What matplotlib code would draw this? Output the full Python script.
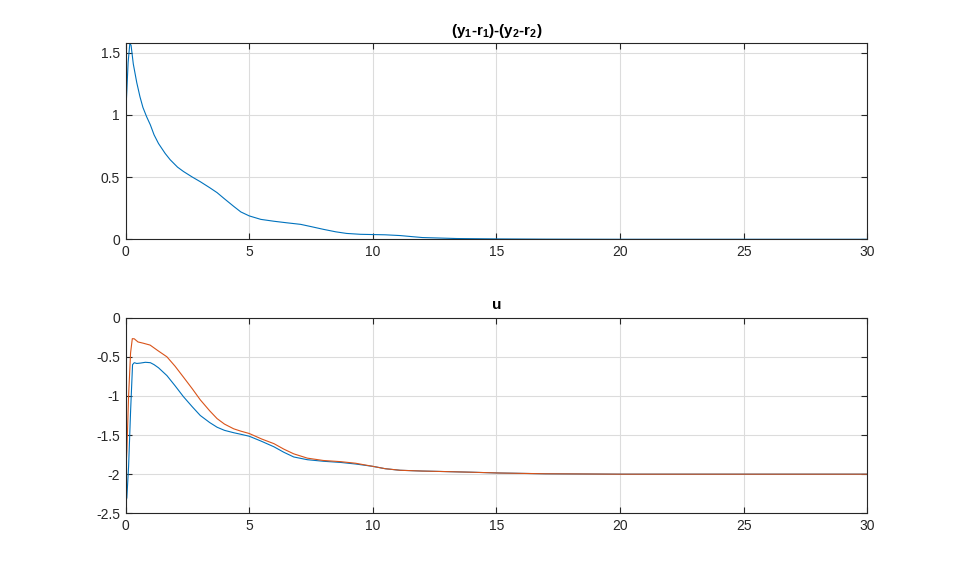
import numpy as np
import matplotlib
matplotlib.use('Agg')
import matplotlib.pyplot as plt


# <============DATA============>#

t_e = [0, 0.05, 0.1, 0.17, 0.22, 0.31, 0.45, 0.58, 0.7, 0.85, 1.0, 1.15,
       1.33, 1.6, 1.8, 2.1, 2.34, 2.7, 3.02, 3.4, 3.7, 4.0, 4.37, 4.66, 5.0,
       5.47, 6.0, 6.5, 7.08, 7.5, 8.0, 8.5, 8.94, 9.5, 10, 10.5, 11.1, 11.6,
       12, 13.4, 15, 17, 20, 25, 30]
e = [1.0, 1.2, 1.42, 1.575, 1.56, 1.41, 1.26, 1.146, 1.06, 0.985, 0.92,
     0.84, 0.77, 0.69, 0.64, 0.58, 0.545, 0.50, 0.463, 0.415, 0.375, 0.325,
     0.265, 0.22, 0.188, 0.16, 0.145, 0.133, 0.12, 0.102, 0.08, 0.06, 0.047,
     0.04, 0.038, 0.036, 0.03, 0.021, 0.014, 0.006, 0.003, 0.001, 0.0, 0.0,
     0.0]

t_u1 = [0, 0.05, 0.12, 0.2, 0.28, 0.35, 0.45, 0.6, 0.8, 1.0, 1.15, 1.33,
        1.67, 2.0, 2.34, 2.7, 3.02, 3.4, 3.7, 4.0, 4.37, 4.66, 5.0, 5.5, 6.0,
        6.4, 6.8, 7.35, 8.0, 8.7, 9.3, 10, 10.5, 11.1, 12, 12.7, 14, 15.1,
        17, 20, 25, 30]
u1 = [-2.37, -2.3, -1.9, -1.2, -0.6, -0.575, -0.585, -0.58, -0.57, -0.575,
      -0.6, -0.64, -0.74, -0.87, -1.01, -1.14, -1.25, -1.34, -1.40, -1.44,
      -1.47, -1.49, -1.515, -1.58, -1.65, -1.72, -1.78, -1.815, -1.835,
      -1.85, -1.87, -1.90, -1.93, -1.95, -1.96, -1.965, -1.975, -1.985,
      -1.995, -2.0, -2.0, -2.0]

t_u2 = [0, 0.05, 0.12, 0.2, 0.27, 0.35, 0.5, 0.7, 0.99, 1.3, 1.67, 2.0,
        2.34, 2.7, 3.02, 3.4, 3.7, 4.0, 4.37, 4.66, 5.0, 5.5, 6.0, 6.4, 6.8,
        7.35, 8.0, 8.7, 9.3, 10, 10.5, 11.1, 12, 12.7, 14, 15.1, 17, 20, 25,
        30]
u2 = [-2.0, -1.7, -1.0, -0.45, -0.268, -0.27, -0.31, -0.325, -0.35, -0.42,
      -0.50, -0.62, -0.76, -0.91, -1.05, -1.19, -1.29, -1.36, -1.42, -1.45,
      -1.48, -1.55, -1.61, -1.68, -1.74, -1.795, -1.825, -1.84, -1.86, -1.90,
      -1.93, -1.95, -1.96, -1.965, -1.975, -1.985, -1.995, -2.0, -2.0, -2.0]

x_ticks = [0, 5, 10, 15, 20, 25, 30]
e_ticks = [0, 0.5, 1, 1.5]
u_ticks = [-2.5, -2, -1.5, -1, -0.5, 0]


# <============PLOTING============>#

plt.rcParams['font.family'] = ['Liberation Sans', 'DejaVu Sans']
plt.rcParams['axes.unicode_minus'] = False
plt.rcParams['mathtext.fontset'] = 'custom'
plt.rcParams['mathtext.rm'] = 'Liberation Sans:bold'
plt.rcParams['mathtext.bf'] = 'Liberation Sans:bold'
plt.rcParams['mathtext.default'] = 'bf'

dark = '#262626'
fig = plt.figure(figsize=(9.59, 5.77), dpi=100)
ax1 = fig.add_axes([0.131, 0.5853, 0.7733, 0.3397])
ax2 = fig.add_axes([0.131, 0.1104, 0.7733, 0.339])

ax1.plot(t_e, e, color='#0072BD', lw=0.8)
ax1.set_xlim(0, 30)
ax1.set_ylim(0, 1.576)
ax1.set_yticks(e_ticks)
ax1.set_yticklabels(['0', '0.5', '1', '1.5'])
ax1.set_title('(y$_1$-r$_1$)-(y$_2$-r$_2$)', fontsize=11,
              fontweight='bold', color='black', pad=6)

ax2.plot(t_u1, u1, color='#0072BD', lw=0.8)
ax2.plot(t_u2, u2, color='#D95319', lw=0.8)
ax2.set_xlim(0, 30)
ax2.set_ylim(-2.5, 0)
ax2.set_yticks(u_ticks)
ax2.set_yticklabels(['-2.5', '-2', '-1.5', '-1', '-0.5', '0'])
ax2.set_title('u', fontsize=11, fontweight='bold', color='black', pad=6)

for ax in fig.axes:
    ax.set_xticks(x_ticks)
    ax.grid(True, color='#dcdcdc', lw=0.8)
    ax.set_axisbelow(True)
    ax.tick_params(direction='in', top=True, right=True, length=4,
                   width=0.8, colors=dark, labelsize=10, pad=4)
    for s in ax.spines.values():
        s.set_color(dark)
        s.set_linewidth(0.8)

fig.savefig('out.png', dpi=100)
